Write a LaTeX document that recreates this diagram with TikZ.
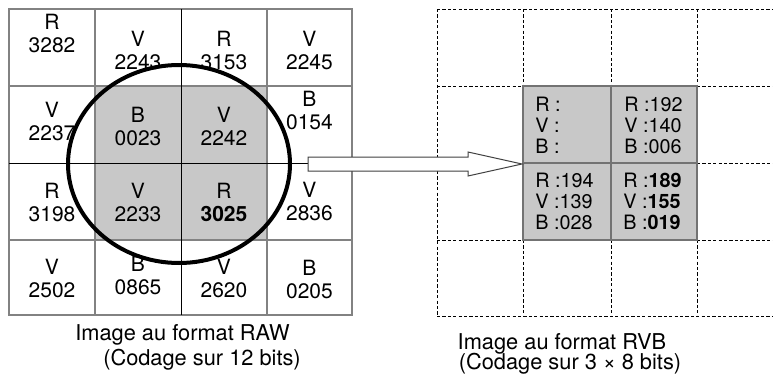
\documentclass[tikz,border=0pt]{standalone}
\usepackage{fontspec}
\setmainfont{TeX Gyre Heros}
\usepackage{tikz}
\definecolor{cellgray}{RGB}{200,200,200}
\definecolor{linegray}{RGB}{130,130,130}
\definecolor{boxgray}{RGB}{115,115,115}

\begin{document}
\begin{tikzpicture}[
    x=0.5pt, y=-0.5pt,
    rawline/.style={draw=linegray, line width=0.65pt},
    midline/.style={draw=black, line width=0.5pt},
    rvbline/.style={draw=black, line width=0.45pt, dash pattern=on 1.6pt off 1.1pt},
    rvbbox/.style={draw=boxgray, line width=0.75pt},
    rawtext/.style={align=center, inner sep=0pt, font=\fontsize{10.5}{11.5}\selectfont},
    rvbtext/.style={align=left, anchor=west, inner sep=0pt, font=\fontsize{9.9}{10.5}\selectfont},
    captext/.style={anchor=base, inner sep=0pt, font=\fontsize{10.9}{12}\selectfont},
    lens/.style={draw=black, line width=2pt},
    bigarrow/.style={draw=black!75, fill=white, line width=0.5pt, line join=miter}
]
\useasboundingbox (0,0) rectangle (773,376);

% RAW grid
\fill[cellgray] (95,86) rectangle (267,240);
\draw[rawline] (9,9) rectangle (352,315);
\draw[rawline] (95,9) -- (95,315);
\draw[rawline] (267,9) -- (267,315);
\draw[rawline] (9,86) -- (352,86);
\draw[rawline] (9,240) -- (352,240);
\draw[midline] (181,9) -- (181,315);
\draw[midline] (9,163) -- (352,163);

% RAW values
\node[rawtext] (raw11) at (52,33) {R\\3282};
\node[rawtext] (raw12) at (138,50.5) {V\\2243};
\node[rawtext] (raw13) at (224,50.5) {R\\3153};
\node[rawtext] (raw14) at (309.5,50) {V\\2245};
\node[rawtext] (raw21) at (52,121) {V\\2237};
\node[rawtext] (raw22) at (138,126) {B\\0023};
\node[rawtext] (raw23) at (224,126) {V\\2242};
\node[rawtext] (raw24) at (309.5,110) {B\\0154};
\node[rawtext] (raw31) at (52,202) {R\\3198};
\node[rawtext] (raw32) at (138,202) {V\\2233};
\node[rawtext] (raw33) at (224,202) {R\\\textbf{3025}};
\node[rawtext] (raw34) at (309.5,201) {V\\2836};
\node[rawtext] (raw41) at (52,278.5) {V\\2502};
\node[rawtext] (raw42) at (138,275.5) {B\\0865};
\node[rawtext] (raw43) at (224,278) {V\\2620};
\node[rawtext] (raw44) at (309.5,279.5) {B\\0205};

% Interpolation zone
\draw[lens] (179,164) ellipse [x radius=55.5pt, y radius=49.5pt];

% RVB grid
\fill[cellgray] (523,86) rectangle (697,240);
\draw[rvbline] (437,9) -- (773,9);
\draw[rvbline] (437,316) -- (773,316);
\draw[rvbline] (437,86) -- (523,86);
\draw[rvbline] (697,86) -- (773,86);
\draw[rvbline] (437,163) -- (523,163);
\draw[rvbline] (697,163) -- (773,163);
\draw[rvbline] (437,240) -- (523,240);
\draw[rvbline] (697,240) -- (773,240);
\draw[rvbline] (437,9) -- (437,316);
\draw[rvbline] (523,9) -- (523,86);
\draw[rvbline] (611,9) -- (611,86);
\draw[rvbline] (697,9) -- (697,86);
\draw[rvbline] (523,240) -- (523,316);
\draw[rvbline] (611,240) -- (611,316);
\draw[rvbline] (697,240) -- (697,316);
\draw[rvbbox] (523,86) rectangle (697,240);
\draw[rvbbox] (611,86) -- (611,240);
\draw[rvbbox] (523,163) -- (697,163);

% RVB values
\node[rvbtext] (rvb22) at (535,125) {R :\\V :\\B :};
\node[rvbtext] (rvb23) at (624,125) {R :192\\V :140\\B :006};
\node[rvbtext] (rvb32) at (535,201) {R :194\\V :139\\B :028};
\node[rvbtext] (rvb33) at (623,201) {R :\textbf{189}\\V :\textbf{155}\\B :\textbf{019}};

% Arrow
\coordinate (arrowfrom) at (308,164);
\coordinate (arrowto) at (522,164);
\draw[bigarrow] (arrowfrom) ++(0,-7) -- ++(160,0) -- ++(0,-5) -- (arrowto)
    -- ++(-54,12) -- ++(0,-5) -- ++(-160,0) -- cycle;

% Captions
\node[captext] (rawcap1) at (182.5,340) {Image au format RAW};
\node[captext] (rawcap2) at (202,365) {(Codage sur 12 bits)};
\node[captext] (rvbcap1) at (562,349) {Image au format RVB};
\node[captext] (rvbcap2) at (570,369) {(Codage sur 3 × 8 bits)};

\end{tikzpicture}
\end{document}
